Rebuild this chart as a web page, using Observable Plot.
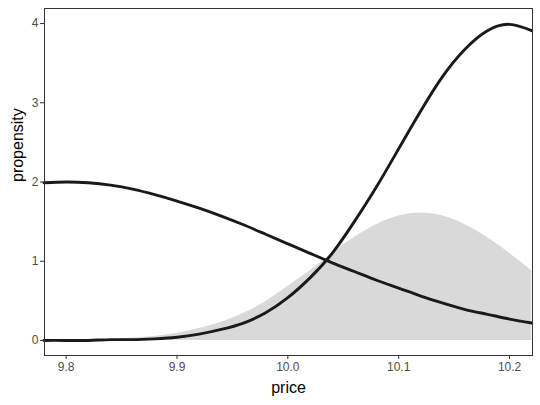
<!DOCTYPE html>
<html>
<head>
<meta charset="utf-8">
<script src="https://cdn.jsdelivr.net/npm/d3@7"></script>
<script src="https://cdn.jsdelivr.net/npm/@observablehq/plot@0.6"></script>
<style>
  body { margin: 0; background: #fff; }
  #chart svg { font-family: "Liberation Sans", Arial, sans-serif; }
</style>
</head>
<body>
<div id="chart"></div>
<script>
const price = [9.78, 9.80, 9.82, 9.84, 9.86, 9.88, 9.90, 9.92, 9.94, 9.96, 9.98, 10.00,
               10.02, 10.04, 10.06, 10.08, 10.10, 10.12, 10.14, 10.16, 10.18, 10.20, 10.22];
const propensityLow  = [1.99, 2.00, 1.99, 1.96, 1.91, 1.84, 1.76, 1.67, 1.57, 1.46, 1.34, 1.22,
                        1.10, 0.98, 0.87, 0.76, 0.66, 0.56, 0.47, 0.39, 0.33, 0.27, 0.22];
const propensityHigh = [0.00, 0.00, 0.00, 0.01, 0.01, 0.02, 0.04, 0.08, 0.14, 0.22, 0.35, 0.54,
                        0.79, 1.10, 1.50, 1.94, 2.42, 2.90, 3.34, 3.68, 3.91, 3.99, 3.91];
const density        = [0.00, 0.00, 0.01, 0.01, 0.03, 0.05, 0.09, 0.15, 0.23, 0.34, 0.49, 0.68,
                        0.88, 1.10, 1.30, 1.46, 1.57, 1.61, 1.57, 1.46, 1.30, 1.10, 0.88];
const xTicks = [9.8, 9.9, 10.0, 10.1, 10.2];
const yTicks = [0, 1, 2, 3, 4];

const dens = price.map((p, i) => ({price: p, value: density[i]}));
const low = price.map((p, i) => ({price: p, value: propensityLow[i]}));
const high = price.map((p, i) => ({price: p, value: propensityHigh[i]}));

const chart = Plot.plot({
  width: 540,
  height: 405,
  marginLeft: 44,
  marginRight: 8,
  marginTop: 8,
  marginBottom: 50,
  x: {domain: [9.7805, 10.2207]},
  y: {domain: [-0.19, 4.19]},
  marks: [
    Plot.areaY(dens, {x: "price", y: "value", fill: "#d9d9d9", curve: "natural"}),
    Plot.line(low, {x: "price", y: "value", stroke: "#1a1a1a", strokeWidth: 2.9, curve: "natural"}),
    Plot.line(high, {x: "price", y: "value", stroke: "#1a1a1a", strokeWidth: 2.9, curve: "natural"}),
    Plot.frame({stroke: "#333", strokeWidth: 1}),
    Plot.axisX({ticks: xTicks, tickFormat: d => d.toFixed(1), tickSize: 4, tickPadding: 3,
                fontSize: 12, color: "#4d4d4d", stroke: "#333", label: null}),
    Plot.axisY({ticks: yTicks, tickFormat: d => String(d), tickSize: 4, tickPadding: 2,
                fontSize: 12, color: "#4d4d4d", stroke: "#333", label: null}),
    Plot.text(["price"], {frameAnchor: "bottom", dy: 37, fontSize: 16, fill: "#000"}),
    Plot.text(["propensity"], {frameAnchor: "left", dx: -27, rotate: -90, fontSize: 16, fill: "#000"})
  ]
});
document.getElementById("chart").appendChild(chart);
</script>
</body>
</html>
